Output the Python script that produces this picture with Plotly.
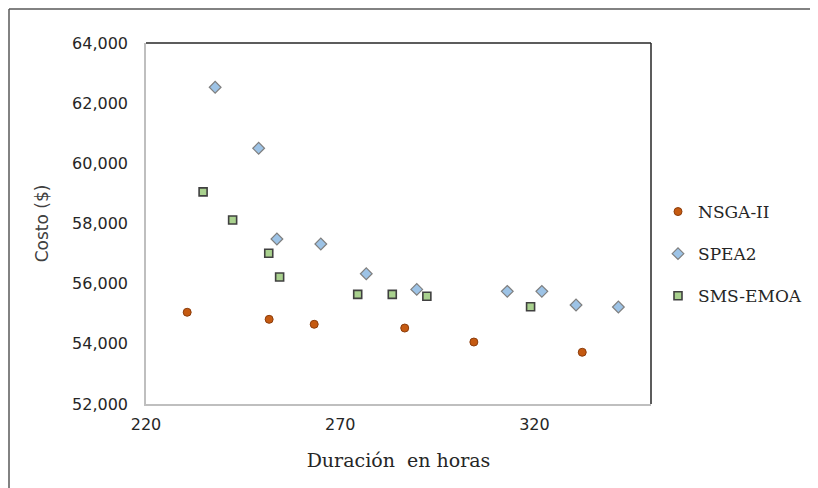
import plotly.graph_objects as go

# Data
nsga_x = [230.6, 251.7, 263.3, 286.6, 304.4, 332.3]
nsga_y = [55050, 54815, 54650, 54525, 54060, 53720]

spea_x = [237.8, 249.0, 253.7, 265.0, 276.7, 289.7, 313.0, 321.9, 330.7, 341.6]
spea_y = [62530, 60500, 57485, 57320, 56330, 55810, 55745, 55745, 55290, 55225]

sms_x = [234.7, 242.3, 251.6, 254.4, 274.5, 283.4, 292.3, 319.0]
sms_y = [59050, 58115, 57010, 56220, 55645, 55645, 55580, 55235]

x_ticks = [220, 270, 320]
y_ticks = [52000, 54000, 56000, 58000, 60000, 62000, 64000]

# page body has an 8px margin, so the figure is placed at (8, 8)
OFF = 8
W, H = 818 - OFF, 488 - OFF
L, R, T, B = 146 - OFF, 818 - 651, 43 - OFF, 488 - 404
pw, ph = W - L - R, H - T - B

fig = go.Figure()
fig.add_trace(go.Scatter(
    x=nsga_x, y=nsga_y, mode="markers", name="NSGA-II", legendgroup="a",
    marker=dict(symbol="circle", size=8, color="#C55A11",
                line=dict(color="#8C3D0C", width=1))))
fig.add_trace(go.Scatter(
    x=spea_x, y=spea_y, mode="markers", name="SPEA2", legendgroup="b",
    marker=dict(symbol="diamond", size=9, color="#9DC3E6",
                line=dict(color="#7F7F7F", width=1.2))))
fig.add_trace(go.Scatter(
    x=sms_x, y=sms_y, mode="markers", name="SMS-EMOA", legendgroup="c",
    marker=dict(symbol="square", size=8, color="#A9D18E",
                line=dict(color="#404040", width=1.6))))

def px_x(p):
    # p: pixel in reference window coordinates
    return (p - OFF - L) / pw

def px_y(p):
    return (T + ph - (p - OFF)) / ph

shapes = [
    # top and right box lines (dark)
    dict(type="line", xref="paper", yref="paper", x0=0, x1=1, y0=1, y1=1,
         line=dict(color="#262626", width=1.5)),
    dict(type="line", xref="paper", yref="paper", x0=1, x1=1, y0=0, y1=1,
         line=dict(color="#262626", width=1.5)),
    # outer frame (top and left)
    dict(type="line", xref="paper", yref="paper", x0=px_x(9), x1=px_x(830),
         y0=px_y(9), y1=px_y(9), line=dict(color="#595959", width=1.5)),
    dict(type="line", xref="paper", yref="paper", x0=px_x(9), x1=px_x(9),
         y0=px_y(9), y1=px_y(500), line=dict(color="#595959", width=1.5)),
]

fig.update_layout(
    width=W, height=H,
    margin=dict(l=L, r=R, t=T, b=B, autoexpand=False),
    paper_bgcolor="white", plot_bgcolor="white",
    shapes=shapes,
    showlegend=True,
    legend=dict(x=px_x(658), y=px_y(254), xanchor="left", yanchor="middle",
                font=dict(family="DejaVu Serif", size=17, color="#262626"),
                tracegroupgap=17, itemwidth=30, bgcolor="rgba(0,0,0,0)"),
    xaxis=dict(range=[220, 350], tickvals=x_ticks, showgrid=False, zeroline=False,
               showline=True, linecolor="#BFBFBF", linewidth=1.5, automargin=False,
               ticks="", ticklabelstandoff=5,
               tickfont=dict(family="DejaVu Sans", size=16, color="#262626"),
               title=dict(text="Duración  en horas", standoff=21,
                          font=dict(family="DejaVu Serif", size=19, color="#262626"))),
    yaxis=dict(range=[52000, 64000], tickvals=y_ticks, tickformat=",",
               showgrid=False, zeroline=False, automargin=False,
               showline=True, linecolor="#BFBFBF", linewidth=1.5,
               ticks="", ticklabelstandoff=13,
               tickfont=dict(family="DejaVu Sans", size=16, color="#262626"),
               title=dict(text="Costo ($)", standoff=19,
                          font=dict(family="DejaVu Sans", size=17, color="#404040"))),
)

fig.write_html("out.html")
